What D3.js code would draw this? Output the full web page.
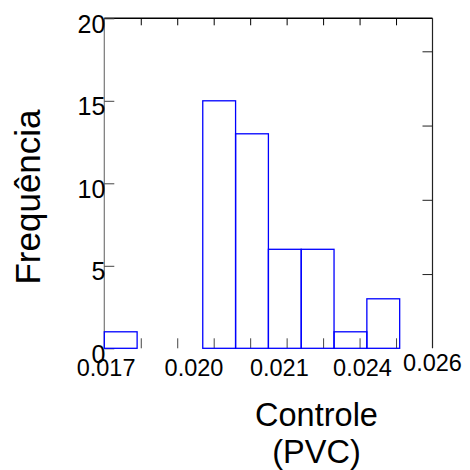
<!DOCTYPE html>
<html>
<head>
<meta charset="utf-8">
<script src="https://cdn.jsdelivr.net/npm/d3@7"></script>
<style>
  body { margin: 0; background: #fff; }
  text { font-family: "Liberation Sans", Arial, sans-serif; fill: #000; }
</style>
</head>
<body>
<div id="chart"></div>
<script>
// histogram bins (lower edge of each bin) and counts
const binStarts = [0.017, 0.0179, 0.0188, 0.0197, 0.0206, 0.0215, 0.0224, 0.0233, 0.0242, 0.0251];
const binWidth = 0.0009;
const counts = [1, 0, 0, 15, 13, 6, 6, 1, 3, 0];

// axis ticks
const xTicks = [0.018, 0.019, 0.02, 0.021, 0.022, 0.023, 0.024, 0.025];
const yTicks = [0, 5, 10, 15, 20];
const rightTicks = [4.5, 9, 13.5, 18];

// x labels as they sit in the picture (not on the tick marks)
const xLabelText = ["0.017", "0.020", "0.021", "0.024", "0.026"];
const xLabelAt = [0.01705, 0.01946, 0.0218, 0.02408, 0.026];

const W = 470,
  H = 470;
const plot = { left: 104.3, right: 432.5, top: 18.3, bottom: 348.3 };

const svg = d3
  .select("#chart")
  .append("svg")
  .attr("width", W)
  .attr("height", H);

const x = d3.scaleLinear().domain([0.017, 0.026]).range([plot.left, plot.right]);
const y = d3.scaleLinear().domain([0, 20]).range([plot.bottom, plot.top]);

// axis frame lines
svg
  .append("line")
  .attr("x1", plot.left)
  .attr("x2", plot.left)
  .attr("y1", plot.top)
  .attr("y2", plot.bottom)
  .attr("stroke", "#777")
  .attr("stroke-width", 1.2);

svg
  .append("line")
  .attr("x1", plot.right)
  .attr("x2", plot.right)
  .attr("y1", plot.top)
  .attr("y2", plot.bottom)
  .attr("stroke", "#222")
  .attr("stroke-width", 1.2);

svg
  .append("line")
  .attr("x1", plot.left)
  .attr("x2", plot.right)
  .attr("y1", plot.top)
  .attr("y2", plot.top)
  .attr("stroke", "#000")
  .attr("stroke-width", 1.4);

// top ticks (inward)
svg
  .append("g")
  .attr("transform", "translate(0," + plot.top + ")")
  .call(d3.axisBottom(x).tickValues(xTicks).tickSize(7).tickFormat(""))
  .call((g) => g.select(".domain").remove())
  .selectAll("line")
  .attr("stroke", "#000");

// bottom ticks (inward)
svg
  .append("g")
  .attr("transform", "translate(0," + plot.bottom + ")")
  .call(d3.axisTop(x).tickValues(xTicks).tickSize(10).tickFormat(""))
  .call((g) => g.select(".domain").remove())
  .selectAll("line")
  .attr("stroke", "#444");

// left ticks (inward) with labels
svg
  .append("g")
  .attr("transform", "translate(" + plot.left + ",0)")
  .call(d3.axisRight(y).tickValues(yTicks).tickSize(10).tickFormat(""))
  .call((g) => g.select(".domain").remove())
  .selectAll("line")
  .attr("stroke", "#444");

svg
  .append("g")
  .selectAll("text")
  .data(yTicks)
  .enter()
  .append("text")
  .attr("x", plot.left + 1)
  .attr("y", (d) => y(d) + 14.4)
  .attr("text-anchor", "end")
  .style("font-size", "25px")
  .text((d) => d);

// right ticks (inward)
svg
  .append("g")
  .attr("transform", "translate(" + plot.right + ",0)")
  .call(d3.axisLeft(y).tickValues(rightTicks).tickSize(10).tickFormat(""))
  .call((g) => g.select(".domain").remove())
  .selectAll("line")
  .attr("stroke", "#222");

// histogram bars
svg
  .append("g")
  .selectAll("rect")
  .data(counts)
  .enter()
  .append("rect")
  .attr("x", (d, i) => x(binStarts[i]))
  .attr("width", (d, i) => x(binStarts[i] + binWidth) - x(binStarts[i]))
  .attr("y", (d) => y(d))
  .attr("height", (d) => y(0) - y(d))
  .attr("fill", "none")
  .attr("stroke", "#0000ff")
  .attr("stroke-width", 1.3);

// x labels
svg
  .append("g")
  .selectAll("text")
  .data(xLabelText)
  .enter()
  .append("text")
  .attr("x", (d, i) => x(xLabelAt[i]))
  .attr("y", (d, i) => (i === xLabelText.length - 1 ? 371 : 376))
  .attr("text-anchor", "middle")
  .style("font-size", "23.5px")
  .text((d) => d);

// axis titles
svg
  .append("text")
  .attr("transform", "translate(40,197) rotate(-90)")
  .attr("text-anchor", "middle")
  .style("font-size", "35px")
  .text("Frequência");

svg
  .append("text")
  .attr("x", 316.5)
  .attr("y", 426)
  .attr("text-anchor", "middle")
  .style("font-size", "32.5px")
  .text("Controle");

svg
  .append("text")
  .attr("x", 316.5)
  .attr("y", 462.5)
  .attr("text-anchor", "middle")
  .style("font-size", "32.5px")
  .text("(PVC)");
</script>
</body>
</html>
